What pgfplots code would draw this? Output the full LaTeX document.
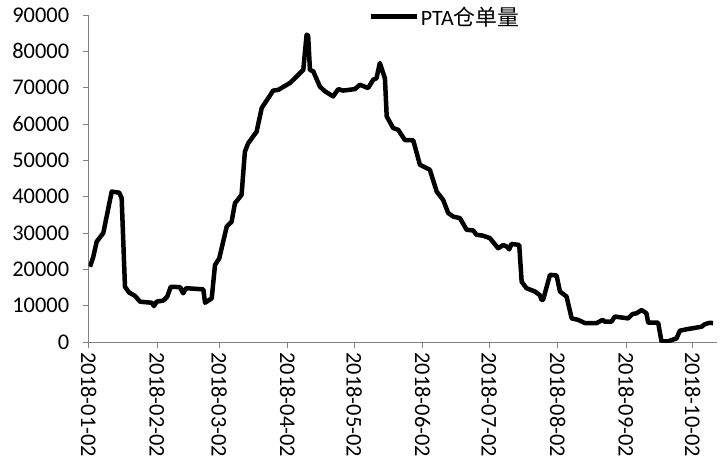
\documentclass[border=0pt]{standalone}
\usepackage{fontspec}
\setmainfont{Carlito}
\newfontfamily\cjk{Noto Sans CJK SC}
\usepackage{pgfplots}
\pgfplotsset{compat=1.18}
\begin{document}
\begin{tikzpicture}
\useasboundingbox (-88.7bp,-129bp) rectangle (639.3bp,342bp);
\begin{axis}[
  scale only axis,
  width=628.3bp, height=327bp,
  at={(0,0)}, anchor=south west,
  xmin=0, xmax=284, ymin=0, ymax=90000,
  axis x line=bottom, axis y line=left,
  axis line style={-, draw=black!50, line width=0.8bp},
  tick style={draw=black!50, line width=0.8bp},
  tick align=outside,
  major tick length=6bp,
  xtick={0,31,59,90,120,151,181,212,243,273},
  xticklabels={2018-01-02,2018-02-02,2018-03-02,2018-04-02,2018-05-02,2018-06-02,2018-07-02,2018-08-02,2018-09-02,2018-10-02},
  ytick distance=10000,
  scaled y ticks=false,
  /pgf/number format/assume math mode=true,
  /pgf/number format/1000 sep={},
  ticklabel style={font=\fontsize{22.5}{25}\selectfont, text=black},
  xticklabel style={rotate=-90, anchor=west, xshift=1bp},
  yticklabel style={xshift=-10bp},
  legend style={draw=none, fill=none, at={(0.445,0.995)}, anchor=west,
    font=\fontsize{22}{25}\selectfont, inner sep=0pt},
  legend cell align=left,
  legend image code/.code={\draw[line width=4.5bp] (0bp,0bp) -- (46bp,0bp);},
]
\addplot[black, line width=4.5bp, line join=round] coordinates {
(0.6,20700) (2.1,23500) (3.6,27600) (6.6,30000) (10.4,41400) (13.8,41100) (14.9,39600)
(16.4,15200) (18.3,13600) (20.9,12700) (23.2,11100) (28.5,10800) (29.5,9900) (30.7,11100)
(33.7,11400) (35.5,12500) (37.1,15200) (41.3,15100) (42.7,13400) (44.0,14800) (51.8,14500)
(52.6,10800) (55.6,12000) (57.1,21200) (59.0,23000) (62.4,31800) (64.6,33100) (66.1,38200)
(69.1,40500) (70.6,52400) (72.1,54700) (75.9,57900) (78.2,64400) (83.4,69200) (85.7,69400)
(91.0,71300) (93.2,72600) (97.0,74900) (98.5,84600) (99.2,84300) (100.0,74900) (101.5,74500)
(104.5,70300) (106.8,69000) (110.5,67600) (112.8,69600) (115.0,69200) (120.3,69600)
(122.6,70800) (126.3,69900) (128.6,72200) (130.1,72600) (131.6,76800) (133.9,72600)
(134.7,62100) (137.6,58900) (139.9,58400) (142.9,55600) (146.7,55500) (149.7,48800)
(154.2,47400) (157.3,41400) (160.2,39100) (162.5,35500) (164.8,34500) (167.8,34100)
(170.8,30900) (173.8,30700) (175.3,29500) (178.0,29300) (181.3,28600) (185.1,25800)
(187.3,26700) (188.9,26300) (190.1,25500) (191.1,27000) (194.6,26700) (195.7,16600)
(197.9,14800) (201.7,13900) (203.9,12900) (204.7,11600) (205.4,11600) (208.5,18500)
(211.5,18300) (213.0,13900) (216.0,12500) (218.3,6500) (221.2,6100) (224.3,5200)
(229.6,5200) (232.3,6100) (233.3,5600) (236.3,5600) (237.8,7000) (243.8,6500) (245.8,7700)
(247.6,7900) (249.9,8800) (252.1,7900) (252.9,5300) (257.4,5300) (258.9,200) (261.9,200)
(265.7,1000) (267.2,3100) (270.2,3500) (277.0,4200) (278.5,4900) (280.8,5300) (282.2,5200)
};
\addlegendentry{PTA{\cjk 仓单量}}
\end{axis}
\end{tikzpicture}
\end{document}
